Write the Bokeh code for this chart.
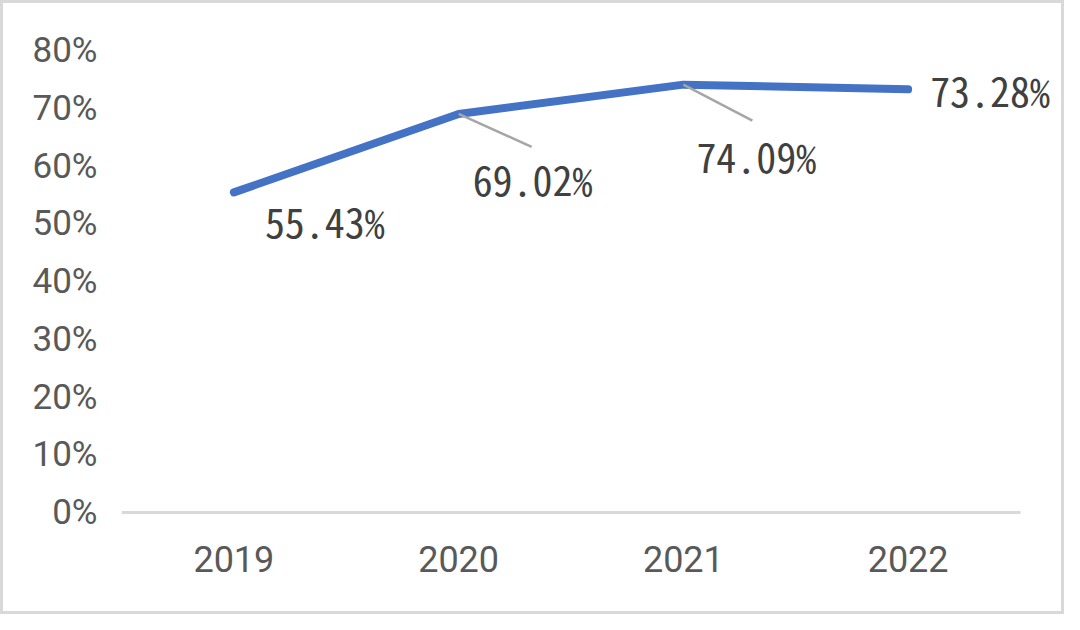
from bokeh.plotting import figure
from bokeh.models import Range1d, FixedTicker, PrintfTickFormatter, ColumnDataSource, LabelSet
from bokeh.core.properties import value
from bokeh.embed import file_html
from bokeh.resources import INLINE

# ---- data ----
years = ["2019", "2020", "2021", "2022"]
rates = [55.43, 69.02, 74.09, 73.28]
labels = ["55.43%", "69.02%", "74.09%", "73.28%"]
y_ticks = [0, 10, 20, 30, 40, 50, 60, 70, 80]

# ---- styles ----
W, H = 1064, 614
BORDER = 3
LEFT, RIGHT, TOP, BOTTOM = 118, 9, 47, 99
PX_PER_CAT = 224.75
PX_PER_PCT = 5.775
label_dx = [31, 14, 13, 22]     # px offsets of value labels
label_dy = [29, 65, 71, 1]
leader = {1: (73, 33), 2: (69, 36)}  # px leader line ends (index: dx, dy)

fw = W - LEFT - RIGHT
fh = H - TOP - BOTTOM
xs = list(range(len(years)))
x_start = -0.5
x_end = x_start + fw / PX_PER_CAT
y_end = 80
y_start = y_end - fh / PX_PER_PCT

p = figure(width=W, height=H, output_backend="svg", toolbar_location=None,
           x_range=Range1d(x_start, x_end), y_range=Range1d(y_start, y_end),
           min_border_left=LEFT, min_border_right=RIGHT,
           min_border_top=TOP, min_border_bottom=BOTTOM)
p.outline_line_color = None
p.grid.visible = False
p.background_fill_color = "white"
p.border_fill_color = "white"
p.styles = {"border": f"{BORDER}px solid #d9d9d9", "box-sizing": "border-box"}

# axes
xa = p.xaxis[0]
xa.ticker = FixedTicker(ticks=xs)
xa.major_label_overrides = {i: y for i, y in enumerate(years)}
xa.axis_line_color = None
xa.major_tick_line_color = None
xa.minor_tick_line_color = None
xa.major_label_text_font = "Roboto"
xa.major_label_text_font_size = "36px"
xa.major_label_text_color = "#595959"
xa.major_label_standoff = 21

ya = p.yaxis[0]
ya.ticker = FixedTicker(ticks=y_ticks)
ya.formatter = PrintfTickFormatter(format="%d%%")
ya.axis_line_color = None
ya.major_tick_line_color = None
ya.minor_tick_line_color = None
ya.major_label_text_font = "Roboto"
ya.major_label_text_font_size = "35px"
ya.major_label_text_color = "#595959"
ya.major_label_standoff = 18

# category baseline at 0%
p.segment([x_start], [0], [len(years) - 0.5], [0], line_color="#d9d9d9", line_width=3)

# line
p.line(xs, rates, line_color="#4472C4", line_width=8, line_cap="round", line_join="round")

# leader lines
x0, y0, x1, y1 = [], [], [], []
for i, (dx, dy) in leader.items():
    x0.append(xs[i]); y0.append(rates[i])
    x1.append(xs[i] + dx / PX_PER_CAT); y1.append(rates[i] - dy / PX_PER_PCT)
p.segment(x0, y0, x1, y1, line_color="#a6a6a6", line_width=2.5)

# value labels
src = ColumnDataSource(dict(x=xs, y=rates, t=labels, dx=label_dx, dy=[-d for d in label_dy]))
p.add_layout(LabelSet(x="x", y="y", text="t", source=src, x_offset="dx", y_offset="dy",
                      text_font=value("Noto Sans Mono CJK SC"), text_font_size="40px",
                      text_color="#404040", text_align="left", text_baseline="middle"))

open("out.html", "w").write(file_html(p, INLINE))
